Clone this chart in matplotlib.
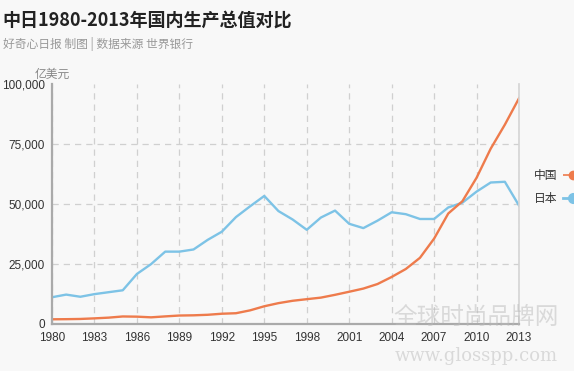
import matplotlib
matplotlib.use("Agg")
from matplotlib import pyplot as plt
from matplotlib.lines import Line2D

plt.rcParams['font.family'] = ['Noto Sans CJK SC', 'DejaVu Sans']

years = list(range(1980, 2014))
# GDP, 100 million USD
china = [1911, 1960, 2050, 2300, 2600, 3090, 3010, 2730, 3120, 3480,
         3570, 3790, 4230, 4440, 5640, 7340, 8640, 9620, 10290, 10940,
         12110, 13390, 14710, 16600, 19550, 22860, 27520, 35520, 45980, 51100,
         60870, 73000, 83000, 94000]
japan = [11100, 12200, 11300, 12400, 13200, 14000, 20800, 24900, 30100, 30100,
         31000, 35000, 38400, 44500, 49000, 53300, 47000, 43500, 39200, 44300,
         47200, 41700, 39900, 43000, 46500, 45700, 43700, 43700, 48500, 50500,
         55100, 58900, 59200, 49300]
xticks = list(range(1980, 2014, 3))
yticks = [0, 25000, 50000, 75000, 100000]
ytick_labels = ["0", "25,000", "50,000", "75,000", "100,000"]

c_china = "#ee7b4c"
c_japan = "#7dc3e6"

fig = plt.figure(figsize=(5.74, 3.71), dpi=100)
fig.patch.set_facecolor("#f8f8f8")
ax = fig.add_axes([0.0906, 0.127, 0.8136, 0.647])
ax.set_facecolor("#f8f8f8")

ax.plot(years, japan, color=c_japan, lw=1.7)
ax.plot(years, china, color=c_china, lw=1.7)

ax.set_xlim(1980, 2013)
ax.set_ylim(0, 100000)
ax.set_xticks(xticks)
ax.set_yticks(yticks)
ax.set_yticklabels(ytick_labels)
for lbl in ax.get_xticklabels() + ax.get_yticklabels():
    lbl.set_fontfamily("Liberation Sans")
ax.tick_params(length=0, labelsize=8.5, colors="#333333", pad=6)
ax.tick_params(axis='y', pad=5)

ax.grid(True, color="#d0d0d0", ls=(0, (5, 4)), lw=0.9)
# no gridline along the top edge
ax.get_ygridlines()[-1].set_visible(False)
ax.spines["top"].set_visible(False)
ax.spines["left"].set_color("#aaaaaa")
ax.spines["left"].set_linewidth(1.6)
ax.spines["bottom"].set_color("#aaaaaa")
ax.spines["bottom"].set_linewidth(1.6)
ax.spines["right"].set_color("#d4d4d4")
ax.spines["right"].set_linewidth(1.2)

handles = [Line2D([], [], color=c_china, ls="--", lw=1.2, marker="o", markersize=6),
           Line2D([], [], color=c_japan, lw=2, marker="o", markersize=7)]
ax.legend(handles, ["中国", "日本"], loc="center left", bbox_to_anchor=(1.01, 0.57),
          frameon=False, markerfirst=False, fontsize=8.5, handlelength=1.8,
          handletextpad=0.4, labelspacing=0.9, labelcolor="#333333")

fig.text(0.005, 0.945, "中日1980-2013年国内生产总值对比", fontsize=13,
         fontweight="bold", color="#222222", va="center")
fig.text(0.005, 0.882, "好奇心日报 制图 | 数据来源 世界银行", fontsize=8.5,
         color="#999999", va="center")
fig.text(0.06, 0.80, "亿美元", fontsize=8.5, color="#888888", va="center")

# watermark
fig.text(0.83, 0.145, "全球时尚品牌网", fontsize=17, color="#bbbbbb", alpha=0.5,
         ha="center", va="center")
fig.text(0.83, 0.040, "www.glosspp.com", fontsize=13, color="#bbbbbb", alpha=0.5,
         ha="center", va="center", fontfamily="DejaVu Serif")

fig.savefig("out.png", dpi=100, facecolor=fig.get_facecolor())
